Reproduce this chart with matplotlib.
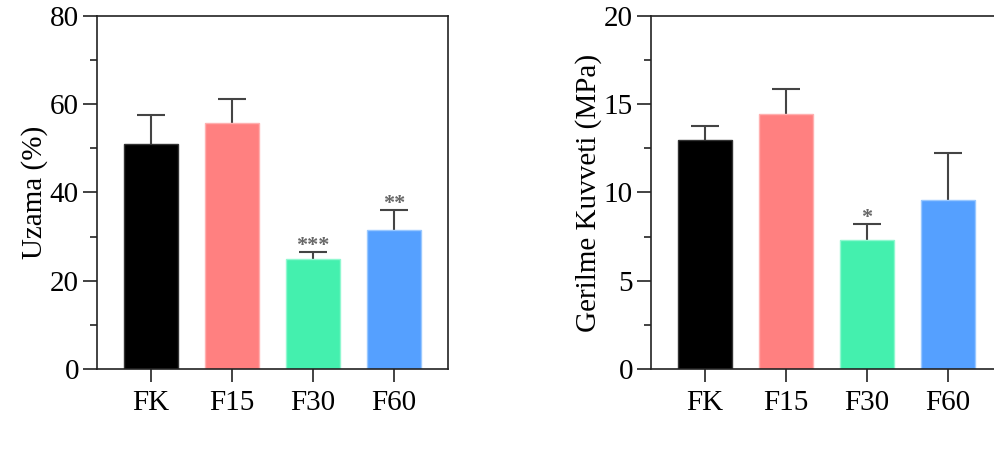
import matplotlib
matplotlib.use("Agg")
import matplotlib.pyplot as plt
import numpy as np

plt.rcParams['font.family'] = ['Liberation Serif', 'DejaVu Serif']

categories = ["FK", "F15", "F30", "F60"]
colors = ["#000000", "#FF8080", "#44F0AE", "#55A0FF"]
edge_colors = ["#333333", "#FFB0B0", "#90F8D0", "#99C8FF"]

uzama_mean = [51.0, 55.7, 25.0, 31.5]
uzama_err = [6.6, 5.6, 1.6, 4.5]
uzama_sig = ["", "", "***", "**"]

gerilme_mean = [12.97, 14.45, 7.31, 9.58]
gerilme_err = [0.80, 1.41, 0.92, 2.68]
gerilme_sig = ["", "", "*", ""]

W, H = 995, 455
fig = plt.figure(figsize=(W / 100, H / 100), dpi=100)

def make_panel(rect, means, errs, sigs, ymax, major, ylabel):
    ax = fig.add_axes(rect)
    x = np.arange(len(categories))
    means = np.array(means)
    errs = np.array(errs)
    tops = means + errs
    ax.vlines(x, means, tops, colors="#444444", linewidth=1.5, zorder=1)
    ax.hlines(tops, x - 0.173, x + 0.173, colors="#444444", linewidth=1.5,
              zorder=1)
    ax.bar(x, means, width=0.67, color=colors, edgecolor=edge_colors,
           linewidth=1.0, zorder=2)
    for xi, t, s in zip(x, tops, sigs):
        if s:
            ax.text(xi, t - ymax * 0.012, s, ha="center", va="bottom",
                    fontsize=16, color="#666666", fontweight="bold")
    ax.set_xlim(-0.667, 3.667)
    ax.set_ylim(0, ymax)
    ax.set_yticks(np.arange(0, ymax + 0.01, major))
    ax.set_yticks(np.arange(major / 2, ymax, major), minor=True)
    ax.set_xticks(x)
    ax.set_xticklabels(categories)
    ax.tick_params(axis="y", which="major", length=10, width=1.2, labelsize=21,
                   pad=3, color="#222222")
    ax.tick_params(axis="y", which="minor", length=5, width=1.2,
                   color="#222222")
    ax.tick_params(axis="x", which="major", length=9, width=1.2, labelsize=21,
                   pad=6, color="#222222")
    for sp in ax.spines.values():
        sp.set_linewidth(1.2)
        sp.set_color("#222222")
    ax.set_ylabel(ylabel, fontsize=21, labelpad=1)
    return ax

make_panel([97 / W, 86 / H, 351 / W, 353 / H], uzama_mean, uzama_err,
           uzama_sig, 80, 20, "Uzama (%)")
make_panel([651 / W, 86 / H, 351 / W, 353 / H], gerilme_mean, gerilme_err,
           gerilme_sig, 20, 5, "Gerilme Kuvveti (MPa)")

fig.savefig("out.png", dpi=100)
